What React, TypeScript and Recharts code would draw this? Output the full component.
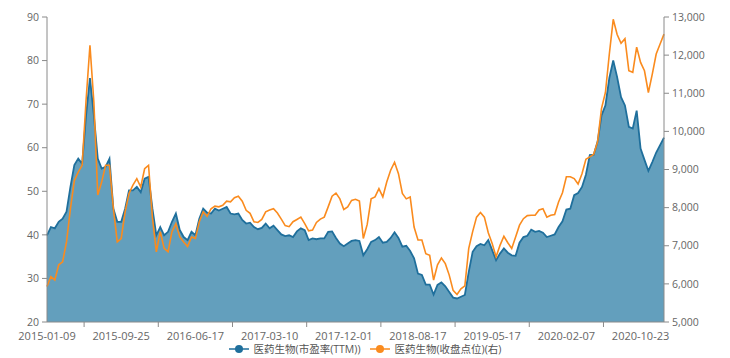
import { ComposedChart, Area, Line, XAxis, YAxis, Legend } from 'recharts';

// weekly points, one value every two weeks
const dateLabels = [
  '2015-01-09', '2015-09-25', '2016-06-17', '2017-03-10', '2017-12-01',
  '2018-08-17', '2019-05-17', '2020-02-07', '2020-10-23',
];
const labelStep = 38;

const peValues = [
  39.9, 41.8, 41.5, 43.0, 43.7, 45.3, 51.0, 56.0, 57.5, 56.3, 67.4, 76.0, 67.4, 57.5, 55.2, 55.6, 57.5, 46.0, 43.0, 43.0,
  46.0, 50.2, 50.2, 51.0, 49.8, 52.9, 53.3, 46.0, 39.9, 41.8, 39.9, 40.7, 43.0, 44.9, 41.1, 39.5, 38.8, 40.7, 39.9, 43.7,
  46.0, 45.1, 44.9, 46.0, 45.6, 46.0, 46.4, 44.9, 44.7, 44.9, 43.4, 42.6, 42.8, 41.8, 41.3, 41.6, 42.6, 41.5, 42.1, 41.1,
  40.1, 39.7, 39.9, 39.5, 40.8, 41.5, 41.1, 38.8, 39.2, 39.0, 39.2, 39.2, 40.7, 40.8, 39.3, 38.0, 37.4, 38.0, 38.6, 38.8,
  38.6, 35.3, 36.7, 38.4, 38.8, 39.5, 38.2, 38.4, 39.3, 40.6, 39.3, 37.3, 37.5, 36.3, 34.6, 31.1, 30.8, 28.6, 28.6, 26.3,
  28.5, 29.1, 28.2, 26.9, 25.6, 25.4, 25.8, 26.2, 31.5, 36.1, 37.4, 37.9, 37.6, 38.8, 36.5, 34.2, 35.7, 36.9, 35.9, 35.3,
  35.2, 38.2, 39.5, 39.8, 41.2, 40.7, 40.9, 40.5, 39.5, 39.8, 40.1, 41.8, 43.1, 45.8, 46.0, 49.1, 49.6, 51.0, 53.8, 58.3,
  58.4, 61.4, 67.4, 69.7, 76.0, 80.0, 76.2, 71.6, 69.7, 64.8, 64.4, 68.5, 59.8, 57.2, 54.7, 56.7, 58.9, 60.6, 62.3,
];

const closeValues = [
  5930, 6190, 6100, 6500, 6580, 7100, 7970, 8710, 8930, 9110, 10810, 12260, 10770, 8330, 8670, 9110, 9110, 7970, 7100, 7190,
  7890, 8370, 8590, 8760, 8540, 9020, 9110, 7740, 6840, 7370, 6930, 6840, 7370, 7580, 7230, 7100, 6980, 7230, 7190, 7630,
  7890, 7770, 7970, 8040, 8020, 8060, 8170, 8150, 8260, 8300, 8170, 7930, 7850, 7630, 7610, 7690, 7890, 7940, 7970, 7860,
  7700, 7530, 7500, 7630, 7690, 7750, 7580, 7390, 7410, 7610, 7700, 7750, 8020, 8300, 8380, 8230, 7950, 8020, 8190, 8220,
  8170, 7190, 7560, 8230, 8280, 8500, 8280, 8670, 8980, 9190, 8890, 8370, 8230, 8280, 7490, 7150, 7150, 6790, 6750, 6100,
  6500, 6680, 6530, 6230, 5830, 5720, 5870, 5950, 6930, 7370, 7750, 7870, 7750, 7340, 7060, 6710, 7010, 7250, 7080, 6930,
  7230, 7540, 7710, 7790, 7800, 7800, 7940, 7970, 7750, 7800, 7820, 8150, 8390, 8810, 8810, 8760, 8620, 8890, 9270, 9330,
  9400, 9730, 10600, 11020, 12030, 12940, 12540, 12310, 12430, 11590, 11550, 12210, 11810, 11590, 11020, 11500, 12030, 12290, 12550,
];

const data = peValues.map((pe, i) => ({ week: i * 2, pe, close: closeValues[i] }));
const lastWeek = data[data.length - 1].week;

// label ticks plus the in-between tick marks
const xTicks: number[] = [];
for (let t = 0; t <= lastWeek; t += labelStep / 2) xTicks.push(t);

const BLUE = '#1f6f9c';
const BLUE_FILL = '#639fbd';
const ORANGE = '#fa8b1e';
const AXIS = '#8a8a8a';
const TEXT = '#666';
const FONT = '"Open Sans", "Noto Sans CJK SC", sans-serif';

function XTick(props: any) {
  const { x, y, payload } = props;
  const v = payload.value as number;
  if (v % labelStep === 0) {
    return (
      <text x={x} y={y + 18} textAnchor="middle" fill={TEXT} fontSize={11} fontFamily={FONT}>
        {dateLabels[v / labelStep]}
      </text>
    );
  }
  return <line x1={x} x2={x} y1={y} y2={y + 5} stroke={AXIS} />;
}

function LegendContent() {
  const items = [
    { color: BLUE, label: '医药生物(市盈率(TTM))' },
    { color: ORANGE, label: '医药生物(收盘点位)(右)' },
  ];
  return (
    <div style={{ display: 'flex', justifyContent: 'center', gap: 9, fontFamily: FONT, fontSize: 10.5, color: '#555', lineHeight: '14px' }}>
      {items.map((it) => (
        <div key={it.label} style={{ display: 'flex', alignItems: 'center' }}>
          <svg width={20} height={10} style={{ marginRight: 5 }}>
            <line x1={0} x2={20} y1={5} y2={5} stroke={it.color} strokeWidth={1.5} />
            <circle cx={10} cy={5} r={4} fill={it.color} />
          </svg>
          <span>{it.label}</span>
        </div>
      ))}
    </div>
  );
}

export default function App() {
  return (
    <div style={{ position: 'absolute', left: 0, top: 0, width: 730, height: 358, background: '#fff' }}>
      <ComposedChart width={730} height={358} data={data} margin={{ top: 17, right: 0, bottom: 2, left: 0 }}>
        <XAxis
          dataKey="week"
          type="number"
          domain={[0, lastWeek]}
          ticks={xTicks}
          interval={0}
          tick={<XTick />}
          tickLine={false}
          tickSize={0}
          tickMargin={0}
          height={20}
          axisLine={{ stroke: AXIS }}
        />
        <YAxis
          yAxisId="left"
          domain={[20, 90]}
          ticks={[20, 30, 40, 50, 60, 70, 80, 90]}
          width={47}
          tickSize={5}
          tickMargin={3}
          axisLine={{ stroke: AXIS }}
          tickLine={{ stroke: AXIS }}
          tick={{ fill: TEXT, fontSize: 10.5, fontFamily: FONT }}
        />
        <YAxis
          yAxisId="right"
          orientation="right"
          domain={[5000, 13000]}
          ticks={[5000, 6000, 7000, 8000, 9000, 10000, 11000, 12000, 13000]}
          width={66}
          tickSize={5}
          tickMargin={3}
          axisLine={{ stroke: AXIS }}
          tickLine={{ stroke: AXIS }}
          tick={{ fill: TEXT, fontSize: 10.5, fontFamily: FONT, textAnchor: 'start' }}
          tickFormatter={(v: number) => v.toLocaleString('en-US')}
        />
        <Area
          yAxisId="left"
          type="linear"
          dataKey="pe"
          stroke={BLUE}
          strokeWidth={1.8}
          fill={BLUE_FILL}
          fillOpacity={1}
          dot={false}
          activeDot={false}
          isAnimationActive={false}
        />
        <Line
          yAxisId="right"
          type="linear"
          dataKey="close"
          stroke={ORANGE}
          strokeWidth={1.6}
          dot={false}
          activeDot={false}
          isAnimationActive={false}
        />
        <Legend verticalAlign="bottom" height={14} content={<LegendContent />} />
      </ComposedChart>
    </div>
  );
}
